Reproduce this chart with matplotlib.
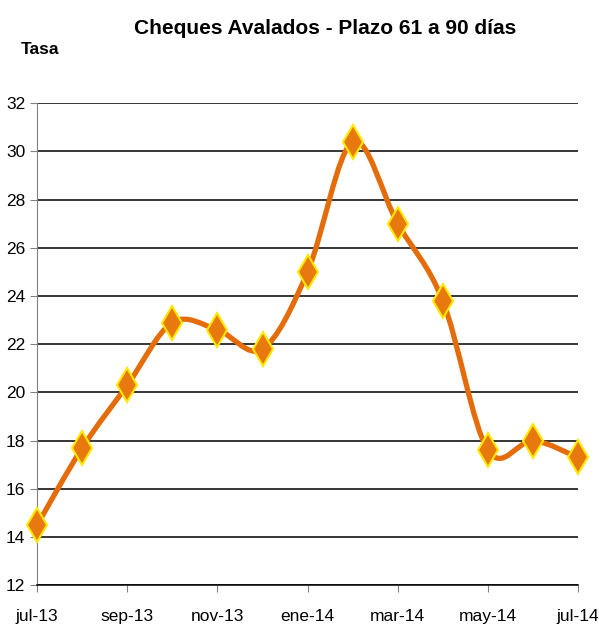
import numpy as np
import matplotlib
matplotlib.use('Agg')
from matplotlib import pyplot as plt
from matplotlib.path import Path
from matplotlib.patches import PathPatch

plt.rcParams['font.family'] = ['Liberation Sans Narrow', 'Liberation Sans', 'DejaVu Sans']

months = ['jul-13', 'ago-13', 'sep-13', 'oct-13', 'nov-13', 'dic-13', 'ene-14',
          'feb-14', 'mar-14', 'abr-14', 'may-14', 'jun-14', 'jul-14']
tasa = [14.5, 17.7, 20.3, 22.9, 22.6, 21.8, 25.0, 30.4, 27.0, 23.8, 17.6, 18.0, 17.3]
yticks = [12, 14, 16, 18, 20, 22, 24, 26, 28, 30, 32]

LINE = '#E46C0A'
FILL = '#E8790F'
EDGE = '#FFE800'


def smoothPath(xs, ys):
  """Excel-style smoothed line as a cubic bezier path."""
  pts = np.column_stack([xs, ys]).astype(float)
  n = len(pts)
  verts = [pts[0]]
  codes = [Path.MOVETO]
  for i in range(n - 1):
    p0 = pts[max(i - 1, 0)]
    p1 = pts[i]
    p2 = pts[i + 1]
    p3 = pts[min(i + 2, n - 1)]
    c1 = p1 + (p2 - p0) / 6.0
    c2 = p2 - (p3 - p1) / 6.0
    verts += [c1, c2, p2]
    codes += [Path.CURVE4] * 3
  return Path(verts, codes)


fig = plt.figure(figsize=(5.99, 6.41), dpi=100)
ax = fig.add_axes([0.062, 0.087, 0.903, 0.752])

x = np.arange(len(tasa))
ax.add_patch(PathPatch(smoothPath(x, tasa), fill=False, edgecolor=LINE,
                       lw=3.8, capstyle='round', zorder=3))
ax.plot(x, tasa, linestyle='none', marker='d', markersize=17,
        markerfacecolor=FILL, markeredgecolor=EDGE, markeredgewidth=1.5, zorder=4,
        clip_on=False)

ax.set_xlim(0, len(tasa) - 1)
ax.set_ylim(12, 32)
ax.set_yticks(yticks)
ax.set_xticks(x[::2])
ax.set_xticklabels(months[::2])
ax.tick_params(axis='both', labelsize=12.5, direction='out', length=5, color='#808080')
ax.tick_params(axis='x', pad=12)
ax.grid(axis='y', color='black', lw=1.1)
ax.set_axisbelow(True)
for s in ['top', 'right']:
  ax.spines[s].set_visible(False)
ax.spines['left'].set_color('#808080')
ax.spines['bottom'].set_color('black')
ax.spines['bottom'].set_linewidth(1.1)

fig.text(0.543, 0.955, 'Cheques Avalados - Plazo 61 a 90 días', ha='center', va='center',
         fontsize=15, fontweight='bold')
fig.text(0.067, 0.922, 'Tasa', ha='center', va='center', fontsize=12.5, fontweight='bold')

fig.savefig('out.png', dpi=100)
